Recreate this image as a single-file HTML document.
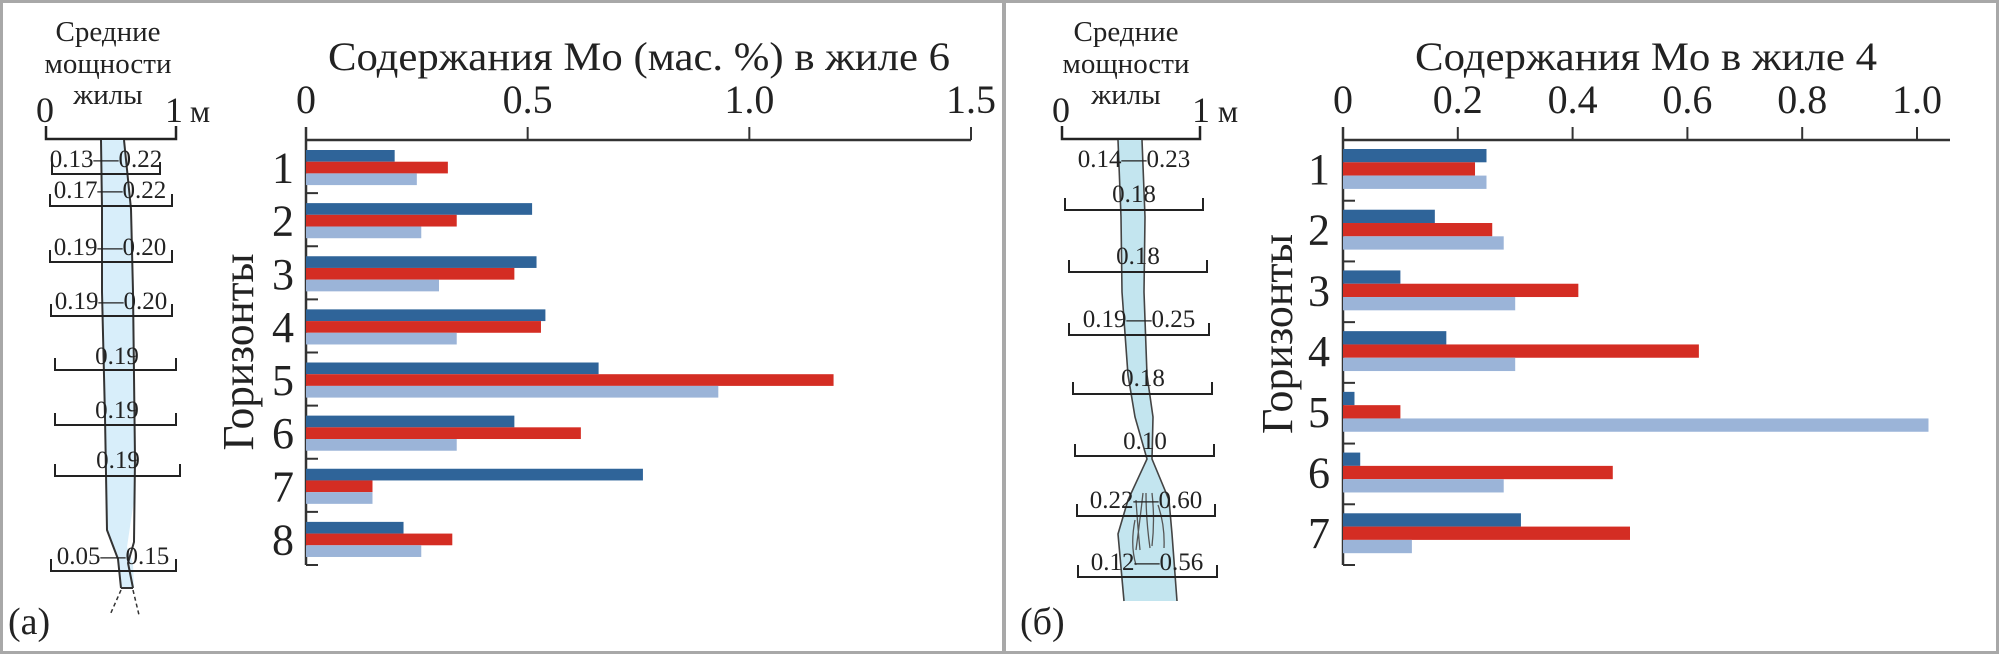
<!DOCTYPE html>
<html><head><meta charset="utf-8"><style>
html,body{margin:0;padding:0;background:#fff}
svg{display:block}
text{font-family:"Liberation Serif",serif;fill:#222}
</style></head><body>
<svg id="s" width="1999" height="654" viewBox="0 0 1999 654" xmlns="http://www.w3.org/2000/svg">
<rect x="1.5" y="1.5" width="1996" height="651" fill="none" stroke="#a8a8a8" stroke-width="3"/>
<line x1="1004" y1="0" x2="1004" y2="654" stroke="#a8a8a8" stroke-width="4"/>

<!-- Left vein diagram -->
<g>
<text x="108" y="41" font-size="29" text-anchor="middle">Средние</text>
<text x="108" y="73" font-size="29" text-anchor="middle">мощности</text>
<text x="108" y="104" font-size="29" text-anchor="middle">жилы</text>
<text x="45" y="122" font-size="36" text-anchor="middle">0</text>
<text x="174" y="122" font-size="36" text-anchor="middle">1</text>
<text x="200" y="122" font-size="32" text-anchor="middle">м</text>
<path d="M46 126V139H176V126" fill="none" stroke="#222" stroke-width="2.5"/>
<path d="M101 140 L102 209 L102 292 L105 417 L107 530 L118 559 L121 588 L134 588 L133 563 L127 547 L134 500 L135 376 L134 292 L131 209 L124 140Z" fill="#d8eefa" stroke="none"/>
<path d="M101 140 L102 209 L102 292 L105 417 L107 530 L118 559 L121 588" fill="none" stroke="#333" stroke-width="2"/>
<path d="M124 140 L131 209 L133 292 L134 376 L135 459 L134 542 L128 563 L133 588" fill="none" stroke="#333" stroke-width="2"/>
<line x1="121" y1="588" x2="133" y2="588" stroke="#333" stroke-width="2"/>
<path d="M121 590 L110 615 M133 590 L139 615" stroke="#333" stroke-width="1.5" stroke-dasharray="4 3" fill="none"/>
</g>
<g id="veinA"></g>

<!-- Right vein diagram -->
<g>
<text x="1126" y="41" font-size="29" text-anchor="middle">Средние</text>
<text x="1126" y="73" font-size="29" text-anchor="middle">мощности</text>
<text x="1126" y="104" font-size="29" text-anchor="middle">жилы</text>
<text x="1061" y="122" font-size="36" text-anchor="middle">0</text>
<text x="1201" y="122" font-size="36" text-anchor="middle">1</text>
<text x="1228" y="122" font-size="32" text-anchor="middle">м</text>
<path d="M1062 126V139H1200V126" fill="none" stroke="#222" stroke-width="2.5"/>
<path d="M1118 140 L1121 217 L1122 292 L1128 375 L1135 417 L1147 459 L1128 500 L1118 534 L1124 601 L1177 601 L1172 534 L1169 500 L1152 459 L1153 417 L1147 375 L1144 292 L1145 217 L1142 140Z" fill="#c3e5ef" stroke="none"/>
<path d="M1118 140 L1121 217 L1122 292 L1128 375 L1135 417 L1147 459 L1128 500 L1118 534 L1124 601" fill="none" stroke="#444" stroke-width="1.6"/>
<path d="M1142 140 L1145 217 L1144 292 L1147 375 L1153 417 L1152 459 L1169 500 L1172 534 L1177 601" fill="none" stroke="#444" stroke-width="1.6"/>
<path d="M1135 520 Q1130 545 1136 565 M1143 493 Q1140 520 1136 550 M1136 500 Q1138 530 1140 550 M1146 493 Q1146 520 1150 548 M1152 493 Q1155 520 1152 546 M1158 505 Q1165 525 1164 548" fill="none" stroke="#555" stroke-width="1.3"/>
</g>
<g id="veinB"></g>

<text x="8" y="634" font-size="38">(а)</text>
<text x="1020" y="634" font-size="38">(б)</text>

<g id="chartA"></g>
<g id="chartB"></g>
</svg>
<script>
// Chart A data (vein 6)
const catsA = ["1","2","3","4","5","6","7","8"];
const darkA = [0.20,0.51,0.52,0.54,0.66,0.47,0.76,0.22];
const redA  = [0.32,0.34,0.47,0.53,1.19,0.62,0.15,0.33];
const lightA= [0.25,0.26,0.30,0.34,0.93,0.34,0.15,0.26];
const ticksA = ["0","0.5","1.0","1.5"];
const tickValsA = [0,0.5,1.0,1.5];
// Chart B data (vein 4)
const catsB = ["1","2","3","4","5","6","7"];
const darkB = [0.25,0.16,0.10,0.18,0.02,0.03,0.31];
const redB  = [0.23,0.26,0.41,0.62,0.10,0.47,0.50];
const lightB= [0.25,0.28,0.30,0.30,1.02,0.28,0.12];
const ticksB = ["0","0.2","0.4","0.6","0.8","1.0"];
const tickValsB = [0,0.2,0.4,0.6,0.8,1.0];
// Vein widths labels
const veinLabelsA = ["0.13—0.22","0.17—0.22","0.19—0.20","0.19—0.20","0.19","0.19","0.19","0.05—0.15"];
const veinLabelsB = ["0.14—0.23","0.18","0.18","0.19—0.25","0.18","0.10","0.22—0.60","0.12—0.56"];

const NS="http://www.w3.org/2000/svg";
function mk(tag,attrs,parent,txt){const e=document.createElementNS(NS,tag);for(const k in attrs)e.setAttribute(k,attrs[k]);if(txt!==undefined)e.textContent=txt;parent.appendChild(e);return e;}

function drawChart(g,cfg){
  const x=v=>cfg.x0+(v/cfg.vmax)*(cfg.x1-cfg.x0);
  const n=cfg.cats.length;
  const band=(cfg.yEnd-cfg.y0)/n;
  const t=mk('text',{x:cfg.titleX,y:70,'font-size':40,textLength:cfg.titleW,lengthAdjust:'spacingAndGlyphs','text-anchor':'middle'},g,cfg.title);
  
  
  const ax=mk('line',{x1:cfg.x0,y1:cfg.y0,x2:cfg.axisEnd,y2:cfg.y0,stroke:'#333','stroke-width':2.5},g);
  
  
  const ay=mk('line',{x1:cfg.x0,y1:cfg.y0-13,x2:cfg.x0,y2:cfg.yEnd,stroke:'#333','stroke-width':2.5},g);
  
  
  cfg.tickVals.forEach((v,i)=>{
    const tk=mk('line',{x1:x(v),y1:cfg.y0-13,x2:x(v),y2:cfg.y0,stroke:'#333','stroke-width':2},g);
    
    
    const tl=mk('text',{x:x(v),y:113,'font-size':40,'text-anchor':'middle'},g,cfg.ticks[i]);
    
    
  });
  const yt=mk('text',{x:0,y:0,'font-size':44,textLength:cfg.ytW,lengthAdjust:'spacingAndGlyphs','text-anchor':'middle',transform:`translate(${cfg.ytX},${cfg.ytY}) rotate(-90)`},g,'Горизонты');
  
  
  const bh=cfg.barH;
  cfg.cats.forEach((c,i)=>{
    const top=cfg.y0+band*i+cfg.off;
    const lb=mk('text',{x:cfg.labX,y:top+bh*1.5+15,'font-size':44,'text-anchor':'middle'},g,c);
    
    
    const sets=[[cfg.dark,'#2f6499'],[cfg.red,'#d42d23'],[cfg.light,'#9bb4d8']];
    sets.forEach((s,j)=>{
      const r=mk('rect',{x:cfg.x0,y:top+bh*j,width:Math.max(0,x(s[0][i])-cfg.x0),height:bh,fill:s[1]},g);
      
      
    });
    const rt=mk('line',{x1:cfg.x0,y1:cfg.y0+band*(i+1),x2:cfg.x0+12,y2:cfg.y0+band*(i+1),stroke:'#333','stroke-width':2},g);
    
    
  });
}
drawChart(document.getElementById('chartA'),{cats:catsA,dark:darkA,red:redA,light:lightA,ticks:ticksA,tickVals:tickValsA,
  x0:306,x1:971,vmax:1.5,axisEnd:971,y0:140,yEnd:565,off:10,barH:11.7,title:'Содержания Mo (мас. %) в жиле 6',titleW:622,titleX:639,ytX:253,ytY:352,ytW:197,labX:283});
drawChart(document.getElementById('chartB'),{cats:catsB,dark:darkB,red:redB,light:lightB,ticks:ticksB,tickVals:tickValsB,
  x0:1343,x1:1917,vmax:1.0,axisEnd:1950,y0:140,yEnd:565,off:9,barH:13.3,title:'Содержания Mo в жиле 4',titleW:462,titleX:1646,ytX:1292,ytY:334,ytW:200,labX:1319});

function drawVein(g,labels,brs){
  labels.forEach((l,i)=>{
    const b=brs[i];
    if(b.x1!==null){
      const p=mk('path',{d:`M${b.x0} ${b.y-12}V${b.y}H${b.x1}V${b.y-12}`,fill:'none',stroke:'#222','stroke-width':2},g);
      
      
    }
    const t=mk('text',{x:b.cx,y:b.ty,'font-size':25,'text-anchor':'middle'},g,l);
    
    
  });
}
drawVein(document.getElementById('veinA'),veinLabelsA,[
 {x0:52,x1:160,y:174,ty:167,cx:106},{x0:50,x1:172,y:206,ty:198,cx:110},{x0:50,x1:172,y:262,ty:255,cx:110},{x0:51,x1:172,y:316,ty:309,cx:111},
 {x0:55,x1:176,y:370,ty:364,cx:117},{x0:55,x1:176,y:425,ty:418,cx:117},{x0:55,x1:180,y:476,ty:468,cx:118},{x0:51,x1:176,y:571,ty:564,cx:113}]);
drawVein(document.getElementById('veinB'),veinLabelsB,[
 {x0:0,x1:null,y:0,ty:167,cx:1134},{x0:1065,x1:1203,y:210,ty:202,cx:1134},{x0:1069,x1:1207,y:272,ty:264,cx:1138},{x0:1069,x1:1209,y:335,ty:327,cx:1139},
 {x0:1073,x1:1212,y:394,ty:386,cx:1143},{x0:1075,x1:1214,y:456,ty:449,cx:1145},{x0:1077,x1:1215,y:516,ty:508,cx:1146},{x0:1078,x1:1217,y:577,ty:570,cx:1147}]);
</script>
</body></html>
